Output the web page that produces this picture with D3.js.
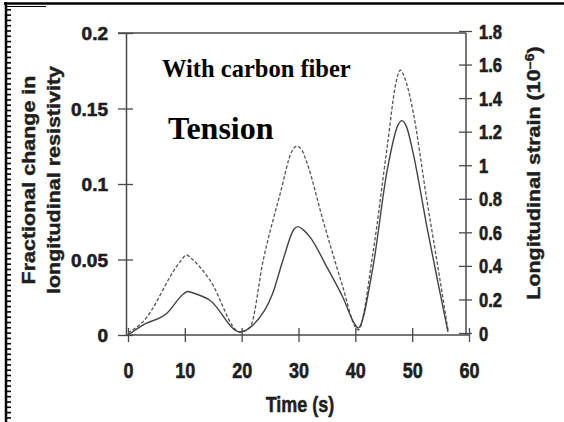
<!DOCTYPE html>
<html>
<head>
<meta charset="utf-8">
<script src="https://cdn.jsdelivr.net/npm/d3@7"></script>
<style>
  html, body { margin: 0; padding: 0; background: #fff; }
  svg { display: block; }
</style>
</head>
<body>
<svg id="chart" width="564" height="422"></svg>
<script>
// ---- data ----
const timeTicks = [0, 10, 20, 30, 40, 50, 60];
const resTicks = [0, 0.05, 0.1, 0.15, 0.2];
const resTickLabels = ["0", "0.05", "0.1", "0.15", "0.2"];
const strainTicks = [0, 0.2, 0.4, 0.6, 0.8, 1, 1.2, 1.4, 1.6, 1.8];
const strainTickLabels = ["0", "0.2", "0.4", "0.6", "0.8", "1", "1.2", "1.4", "1.6", "1.8"];

// solid curve: fractional change in longitudinal resistivity (left axis)
const resTime  = [0, 2.6, 6.9, 9.7, 10.5, 11.5, 14.4, 19.7, 22, 25.5, 27.3, 29.2, 29.9, 30.8, 32, 35, 37.8, 40, 40.5, 43.1, 45.6, 47.5, 48.2, 49.0, 50.2, 52.6, 54.9, 56.3];
const resValue = [0, 0.0066, 0.0146, 0.027, 0.0288, 0.0278, 0.023, 0.002, 0.0066, 0.028, 0.05, 0.070, 0.0718, 0.0698, 0.065, 0.045, 0.025, 0.0066, 0.0046, 0.045, 0.109, 0.139, 0.142, 0.138, 0.12, 0.0715, 0.028, 0.002];

// dashed curve: longitudinal strain (right axis, 10^-6)
const strainTime  = [0, 2.6, 9.3, 10.3, 11.3, 14.4, 19.7, 21.5, 23.8, 26.8, 28.8, 29.7, 30.6, 31.5, 34.3, 37.8, 40, 40.5, 43.1, 45.6, 47.2, 47.9, 48.7, 50, 52.6, 54.9, 56.3];
const strainValue = [0, 0.066, 0.43, 0.465, 0.44, 0.316, 0.006, 0.036, 0.435, 0.834, 1.08, 1.114, 1.09, 1.013, 0.673, 0.274, 0.036, 0.018, 0.477, 1.108, 1.50, 1.567, 1.52, 1.347, 0.79, 0.316, 0.018];

const titleLine1 = "With carbon fiber";
const titleLine2 = "Tension";

// ---- layout ----
const svg = d3.select("#chart");
const pL = 126, pR = 466, pT = 33, pB = 335;
const x = d3.scaleLinear().domain([0, 60]).range([128, 469]);
const yL = d3.scaleLinear().domain([0, 0.2]).range([pB, pT]);
const yR = d3.scaleLinear().domain([0, 1.8]).range([333, 31]);

const axisColor = "#4a4a4a";
const textColor = "#1e1e1e";
const sansFont = "'Liberation Sans', Arial, Helvetica, sans-serif";
const serifFont = "'Liberation Serif', 'Times New Roman', serif";

// ---- scan frame decorations ----
svg.append("line").attr("x1", 4).attr("x2", 564).attr("y1", 3.5).attr("y2", 3.5)
  .attr("stroke", "#000").attr("stroke-width", 2.5);
svg.append("line").attr("x1", 5).attr("x2", 46).attr("y1", 6.5).attr("y2", 6.5)
  .attr("stroke", "#000").attr("stroke-width", 1);
svg.append("line").attr("x1", 6).attr("x2", 6).attr("y1", 2).attr("y2", 422)
  .attr("stroke", "#000").attr("stroke-width", 2.5);
const rulerG = svg.append("g");
for (let yy = 9; yy < 422; yy += 5.3) {
  rulerG.append("rect").attr("x", 6).attr("y", yy).attr("width", 5).attr("height", 1.6).attr("fill", "#000");
}

// ---- frame top ----
svg.append("line").attr("x1", 118).attr("x2", pR).attr("y1", pT).attr("y2", pT)
  .attr("stroke", axisColor).attr("stroke-width", 1.5);

// ---- axes ----
function styleAxis(g) {
  g.select(".domain").attr("stroke", axisColor).attr("stroke-width", 1.5);
  g.selectAll(".tick line").attr("stroke", axisColor).attr("stroke-width", 1.3);
  g.selectAll(".tick text").attr("fill", textColor).attr("font-family", sansFont)
    .attr("font-weight", "bold").attr("stroke", textColor).attr("stroke-width", 0.6);
}

// left axis
const gL = svg.append("g").attr("transform", `translate(${pL},0)`)
  .call(d3.axisLeft(yL).tickValues(resTicks).tickFormat((d, i) => resTickLabels[i]).tickSizeOuter(0));
styleAxis(gL);
gL.selectAll(".tick line").attr("x1", -8).attr("x2", 7);
gL.selectAll(".tick text").attr("x", -18).attr("dy", "0.36em").attr("font-size", 19);

// right axis
const gR = svg.append("g").attr("transform", `translate(${pR},0)`)
  .call(d3.axisRight(yR).tickValues(strainTicks).tickFormat((d, i) => strainTickLabels[i]).tickSizeOuter(0));
styleAxis(gR);
gR.select(".domain").attr("d", `M0,${pT}V${pB}`);
gR.selectAll(".tick line").attr("x1", -7).attr("x2", 6);
const rsx = 0.85;
gR.selectAll(".tick text").attr("x", 13 / rsx).attr("dy", "0.36em").attr("font-size", 19.5)
  .attr("transform", `scale(${rsx},1)`);

// bottom axis
const gB = svg.append("g").attr("transform", `translate(0,${pB})`)
  .call(d3.axisBottom(x).tickValues(timeTicks).tickSizeOuter(0));
styleAxis(gB);
gB.select(".domain").attr("d", `M${pL},0H${x(60)}`);
gB.selectAll(".tick line").attr("y1", -7).attr("y2", 7);
const bsx = 0.8;
gB.selectAll(".tick text").attr("y", 43).attr("dy", 0).attr("font-size", 22.5)
  .attr("transform", `scale(${bsx},1)`);

// ---- curves ----
const resData = resTime.map((t, i) => ({ t, v: resValue[i] }));
const strainData = strainTime.map((t, i) => ({ t, v: strainValue[i] }));

svg.append("path").datum(strainData)
  .attr("fill", "none").attr("stroke", "#555").attr("stroke-width", 1.3)
  .attr("stroke-dasharray", "3.5,2").attr("stroke-linejoin", "round")
  .attr("d", d3.line().x(d => x(d.t)).y(d => yR(d.v)).curve(d3.curveMonotoneX));

svg.append("path").datum(resData)
  .attr("fill", "none").attr("stroke", "#444").attr("stroke-width", 1.4)
  .attr("stroke-linejoin", "round")
  .attr("d", d3.line().x(d => x(d.t)).y(d => yL(d.v)).curve(d3.curveMonotoneX));

// ---- axis titles ----
function squeezedText(px, py, rot, size, sx) {
  return svg.append("text")
    .attr("transform", `translate(${px},${py}) scale(${sx},1) rotate(${rot})`)
    .attr("text-anchor", "middle").attr("font-family", sansFont).attr("font-weight", "bold")
    .attr("font-size", size).attr("fill", textColor)
    .attr("stroke", textColor).attr("stroke-width", 0.5);
}
squeezedText(300, 412, 0, 22.5, 0.8).text("Time (s)");
squeezedText(35, 180, -90, 21.5, 0.85).text("Fractional change in");
squeezedText(60, 180, -90, 21.5, 0.85).text("longitudinal resistivity");
const rt = squeezedText(540, 173, -90, 21.5, 0.85);
rt.append("tspan").text("Longitudinal strain (10");
rt.append("tspan").attr("dy", -7).attr("font-size", 14).text("−6");
rt.append("tspan").attr("dy", 7).text(")");

// ---- annotations ----
svg.append("text").attr("x", 162).attr("y", 77)
  .attr("font-family", serifFont).attr("font-weight", "bold").attr("font-size", 24.5)
  .attr("fill", "#000").text(titleLine1);
svg.append("text").attr("x", 168).attr("y", 139)
  .attr("font-family", serifFont).attr("font-weight", "bold").attr("font-size", 32)
  .attr("fill", "#000").text(titleLine2);
</script>
</body>
</html>
